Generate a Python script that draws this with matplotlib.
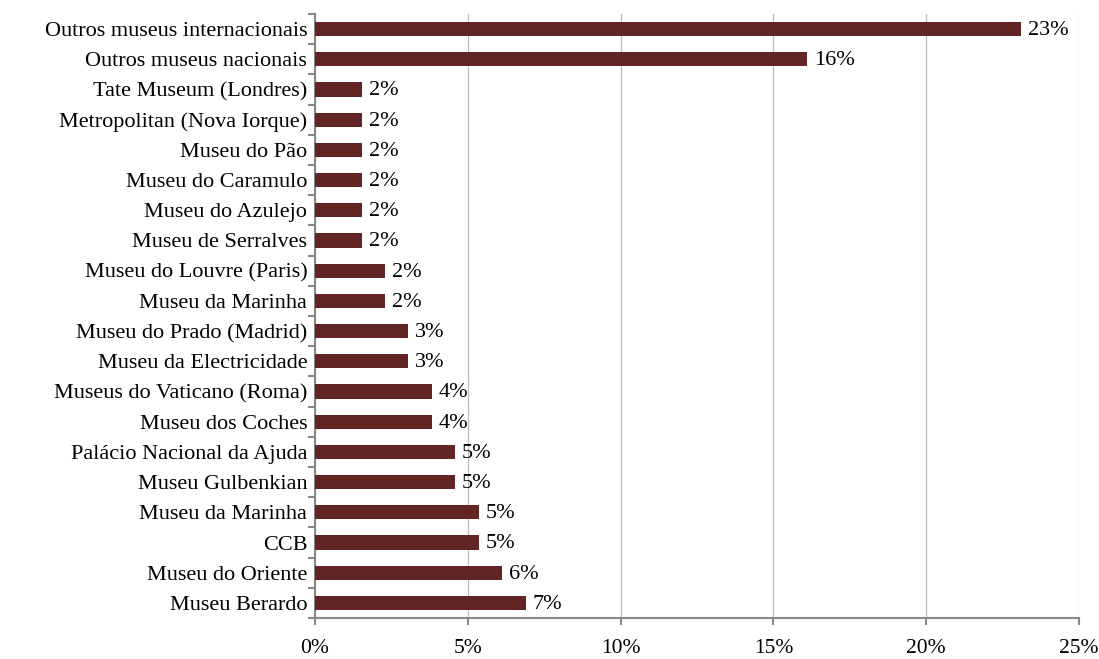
import matplotlib
matplotlib.use('Agg')
import matplotlib.pyplot as plt
import numpy as np

# categories listed top to bottom, as in the reference
museums = [
    "Outros museus internacionais",
    "Outros museus nacionais",
    "Tate Museum (Londres)",
    "Metropolitan (Nova Iorque)",
    "Museu do Pão",
    "Museu do Caramulo",
    "Museu do Azulejo",
    "Museu de Serralves",
    "Museu do Louvre (Paris)",
    "Museu da Marinha",
    "Museu do Prado (Madrid)",
    "Museu da Electricidade",
    "Museus do Vaticano (Roma)",
    "Museu dos Coches",
    "Palácio Nacional da Ajuda",
    "Museu Gulbenkian",
    "Museu da Marinha",
    "CCB",
    "Museu do Oriente",
    "Museu Berardo",
]
shares = [23.1, 16.1, 1.53, 1.53, 1.53, 1.53, 1.53, 1.53, 2.29, 2.29,
          3.05, 3.05, 3.82, 3.82, 4.58, 4.58, 5.36, 5.36, 6.12, 6.89]
x_ticks = [0, 5, 10, 15, 20, 25]

plt.rcParams['font.family'] = ['Liberation Serif', 'DejaVu Serif']
FS = 16

fig = plt.figure(figsize=(10.99, 6.59), dpi=100)
ax = fig.add_axes([0.2866, 0.0622, 0.6952, 0.9166])

y = np.arange(len(museums))
bars = ax.barh(y, shares, height=0.47, color="#632426", zorder=3)
for rect, val in zip(bars, shares):
    ax.annotate(f"{round(val):.0f}%", (rect.get_width(), rect.get_y() + rect.get_height() / 2),
                xytext=(5, -1), textcoords="offset points", ha="left", va="center",
                fontsize=FS, color="black")

ax.set_xlim(0, 25)
ax.set_ylim(len(museums) - 0.5, -0.5)
ax.set_xticks(x_ticks)
ax.set_xticklabels([f"{t}%" for t in x_ticks], fontsize=15.5)
ax.set_yticks(y)
ax.set_yticklabels(museums, fontsize=FS)
ax.set_yticks(np.arange(len(museums) + 1) - 0.5, minor=True)

ax.tick_params(axis='y', which='major', length=0, pad=5.5)
ax.tick_params(axis='y', which='minor', length=5, color="#888888", width=1.5)
ax.tick_params(axis='x', which='major', length=5, color="#888888", width=1.5, pad=10)

ax.xaxis.grid(True, color="#BBBBBB", linewidth=0.9, zorder=0)
for side in ["top", "right"]:
    ax.spines[side].set_visible(False)
for side in ["left", "bottom"]:
    ax.spines[side].set_color("#888888")
    ax.spines[side].set_linewidth(1.5)

plt.savefig("out.png", dpi=100)
plt.close()
